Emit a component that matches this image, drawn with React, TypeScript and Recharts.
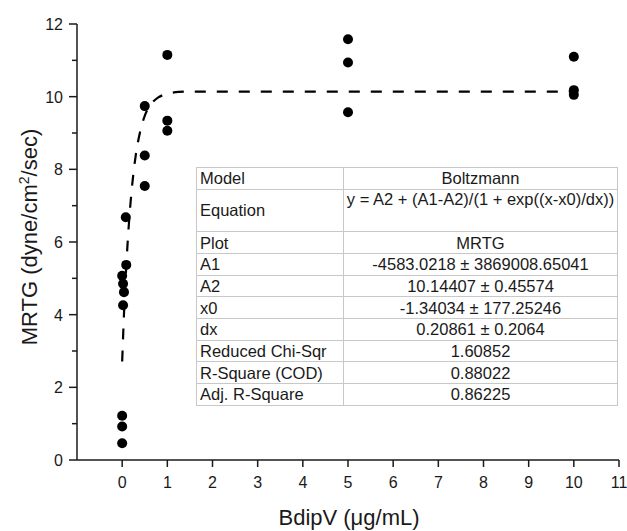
import { ComposedChart, Line, Scatter, XAxis, YAxis } from "recharts"

// measured points (BdipV µg/mL vs MRTG)
const pointX = [0, 0, 0, 0, 0.02, 0.04, 0.02, 0.09, 0.08, 0.5, 0.5, 0.5, 1, 1, 1, 5, 5, 5, 10, 10, 10]
const pointY = [1.22, 0.92, 0.46, 5.07, 4.85, 4.62, 4.26, 5.37, 6.68, 9.74, 8.38, 7.54, 11.15, 9.34, 9.06, 11.58, 10.94, 9.57, 11.1, 10.18, 10.05]

// Boltzmann fit curve
const fitX = [0, 0.05, 0.1, 0.15, 0.2, 0.25, 0.3, 0.4, 0.5, 0.6, 0.7, 0.8, 1, 1.25, 1.5, 2, 3, 5, 10]
const fitY = [2.71, 4.3, 5.54, 6.52, 7.29, 7.9, 8.38, 9.05, 9.47, 9.73, 9.88, 9.98, 10.08, 10.13, 10.14, 10.14, 10.14, 10.14, 10.14]

const xTicks = [0, 1, 2, 3, 4, 5, 6, 7, 8, 9, 10, 11]
const yTicks = [0, 1, 2, 3, 4, 5, 6, 7, 8, 9, 10, 11, 12]

const fitRows = [
    ["Model", "Boltzmann"],
    ["Equation", "y = A2 + (A1-A2)/(1 + exp((x-x0)/dx))"],
    ["Plot", "MRTG"],
    ["A1", "-4583.0218 ± 3869008.65041"],
    ["A2", "10.14407 ± 0.45574"],
    ["x0", "-1.34034 ± 177.25246"],
    ["dx", "0.20861 ± 0.2064"],
    ["Reduced Chi-Sqr", "1.60852"],
    ["R-Square (COD)", "0.88022"],
    ["Adj. R-Square", "0.86225"],
]

const FONT = "'Liberation Sans', Arial, sans-serif"
const INK = "#1a1a1a"

const points = pointX.map((x, i) => ({ x, y: pointY[i] }))
const fit = fitX.map((x, i) => ({ x, y: fitY[i] }))

function YTick({ x, y, payload }: any) {
    const major = payload.value % 2 === 0
    return (
        <g>
            <line x1={x - (major ? 8 : 5)} x2={x} y1={y} y2={y} stroke={INK} strokeWidth={1.5} />
            {major && (
                <text x={x - 14} y={y} dy={6} textAnchor="end" fontSize={16} fontFamily={FONT} fill={INK}>
                    {payload.value}
                </text>
            )}
        </g>
    )
}

function XTick({ x, y, payload }: any) {
    return (
        <g>
            <line x1={x} x2={x} y1={y} y2={y + 7} stroke={INK} strokeWidth={1.5} />
            <text x={x} y={y + 28} textAnchor="middle" fontSize={16} fontFamily={FONT} fill={INK}>
                {payload.value}
            </text>
        </g>
    )
}

function Dot({ cx, cy }: any) {
    return <circle cx={cx} cy={cy} r={5} fill="#000" />
}

export default function App() {
    const cell = { border: "1px solid #c8c8c8", padding: "0 3px", height: 20.7, lineHeight: "20px" }
    return (
        <div style={{ position: "absolute", left: 0, top: 0, width: 627, height: 531, background: "#fff", fontFamily: FONT }}>
            <ComposedChart width={627} height={531} margin={{ top: 24, right: 8, bottom: 31, left: 17 }}>
                <XAxis
                    type="number"
                    dataKey="x"
                    domain={[-1, 11]}
                    ticks={xTicks}
                    allowDataOverflow
                    height={40}
                    tickSize={0}
                    tickMargin={0}
                    tickLine={false}
                    tick={<XTick />}
                    axisLine={{ stroke: INK, strokeWidth: 1.5 }}
                />
                <YAxis
                    type="number"
                    dataKey="y"
                    domain={[0, 12]}
                    ticks={yTicks}
                    width={60}
                    tickSize={0}
                    tickMargin={0}
                    tickLine={false}
                    tick={<YTick />}
                    interval={0}
                    axisLine={{ stroke: INK, strokeWidth: 1.5 }}
                />
                <Line
                    data={fit}
                    dataKey="y"
                    type="monotone"
                    stroke="#000"
                    strokeWidth={2.2}
                    strokeDasharray="11 11"
                    dot={false}
                    activeDot={false}
                    isAnimationActive={false}
                />
                <Scatter data={points} dataKey="y" fill="#000" shape={<Dot />} isAnimationActive={false} />
            </ComposedChart>

            <div
                style={{
                    position: "absolute", left: 31, top: 237, transform: "translate(-50%, -50%) rotate(-90deg)",
                    whiteSpace: "nowrap", fontSize: 22, color: INK, lineHeight: "26px",
                }}
            >
                MRTG (dyne/cm<span style={{ fontSize: 14, position: "relative", top: -8 }}>2</span>/sec)
            </div>
            <div
                style={{
                    position: "absolute", left: 349, top: 518, transform: "translate(-50%, -50%)",
                    whiteSpace: "nowrap", fontSize: 22, color: INK, lineHeight: "26px",
                }}
            >
                BdipV (μg/mL)
            </div>

            <table
                style={{
                    position: "absolute", left: 196, top: 167, width: 421, borderCollapse: "collapse",
                    fontSize: 16.5, color: INK, background: "#fff", tableLayout: "fixed",
                }}
            >
                <colgroup>
                    <col style={{ width: 147 }} />
                    <col style={{ width: 274 }} />
                </colgroup>
                <tbody>
                    {fitRows.map(([k, v]) =>
                        k === "Equation" ? (
                            <tr key={k}>
                                <td style={{ ...cell, height: 41.5, verticalAlign: "middle" }}>{k}</td>
                                <td style={{ ...cell, height: 41.5, verticalAlign: "top", textAlign: "center", padding: 0, whiteSpace: "nowrap", lineHeight: "18px" }}>{v}</td>
                            </tr>
                        ) : (
                            <tr key={k}>
                                <td style={cell}>{k}</td>
                                <td style={{ ...cell, textAlign: "center" }}>{v}</td>
                            </tr>
                        )
                    )}
                </tbody>
            </table>
        </div>
    )
}
